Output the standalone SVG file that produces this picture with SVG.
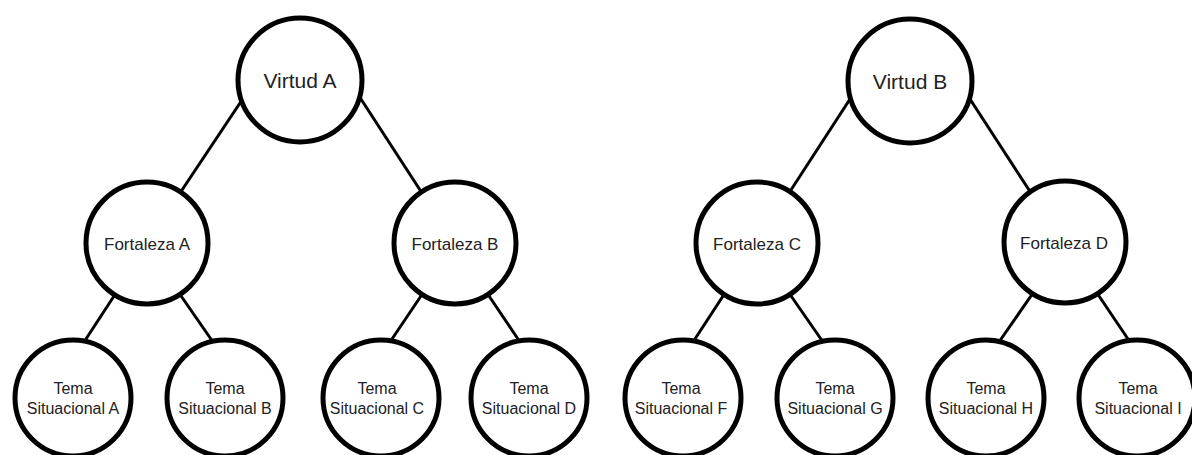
<svg xmlns="http://www.w3.org/2000/svg" width="1192" height="455" viewBox="0 0 1192 455">
<style>
.n{fill:#fff;stroke:#000;stroke-width:5}
.c line{stroke:#000;stroke-width:3;stroke-linecap:butt}
text{font-family:"Liberation Sans",Arial,sans-serif;fill:#222;text-anchor:middle}
.t1{font-size:21px}
.t2{font-size:17px}
.t3{font-size:16px}
</style>
<rect width="1192" height="455" fill="#fff"/>
<g id="connectors" class="c">
<line x1="244" y1="97" x2="180" y2="193"/>
<line x1="359" y1="96" x2="422" y2="193"/>
<line x1="852" y1="96" x2="789" y2="193"/>
<line x1="968" y1="96" x2="1031" y2="193"/>
<line x1="116" y1="293" x2="84" y2="342"/>
<line x1="179" y1="293" x2="213" y2="342"/>
<line x1="423" y1="293" x2="390" y2="342"/>
<line x1="487" y1="293" x2="520" y2="342"/>
<line x1="725" y1="293" x2="693" y2="342"/>
<line x1="789" y1="293" x2="823" y2="342"/>
<line x1="1033" y1="293" x2="999" y2="342"/>
<line x1="1097" y1="293" x2="1130" y2="342"/>
</g>
<g id="virtud-a"><circle class="n" cx="300" cy="80" r="62"/><text class="t1" x="300" y="88">Virtud A</text></g>
<g id="virtud-b"><circle class="n" cx="910" cy="81" r="62"/><text class="t1" x="910" y="89">Virtud B</text></g>
<g id="fortaleza-a"><circle class="n" cx="147" cy="243" r="61"/><text class="t2" x="147" y="250">Fortaleza A</text></g>
<g id="fortaleza-b"><circle class="n" cx="455" cy="243" r="61"/><text class="t2" x="455" y="250">Fortaleza B</text></g>
<g id="fortaleza-c"><circle class="n" cx="757" cy="243" r="61"/><text class="t2" x="757" y="250">Fortaleza C</text></g>
<g id="fortaleza-d"><circle class="n" cx="1065" cy="242" r="61"/><text class="t2" x="1064" y="249">Fortaleza D</text></g>
<g id="tema-a"><circle class="n" cx="73" cy="398" r="58"/><text class="t3" x="73" y="394">Tema</text><text class="t3" x="73" y="414">Situacional A</text></g>
<g id="tema-b"><circle class="n" cx="225" cy="398" r="58"/><text class="t3" x="225" y="394">Tema</text><text class="t3" x="225" y="414">Situacional B</text></g>
<g id="tema-c"><circle class="n" cx="381" cy="398" r="58"/><text class="t3" x="377" y="394">Tema</text><text class="t3" x="377" y="414">Situacional C</text></g>
<g id="tema-d"><circle class="n" cx="529" cy="398" r="58"/><text class="t3" x="529" y="394">Tema</text><text class="t3" x="529" y="414">Situacional D</text></g>
<g id="tema-f"><circle class="n" cx="683" cy="398" r="58"/><text class="t3" x="681" y="394">Tema</text><text class="t3" x="681" y="414">Situacional F</text></g>
<g id="tema-g"><circle class="n" cx="835" cy="398" r="58"/><text class="t3" x="835" y="394">Tema</text><text class="t3" x="835" y="414">Situacional G</text></g>
<g id="tema-h"><circle class="n" cx="986" cy="398" r="58"/><text class="t3" x="986" y="394">Tema</text><text class="t3" x="986" y="414">Situacional H</text></g>
<g id="tema-i"><circle class="n" cx="1137" cy="398" r="58"/><text class="t3" x="1138" y="394">Tema</text><text class="t3" x="1138" y="414">Situacional I</text></g>
</svg>
